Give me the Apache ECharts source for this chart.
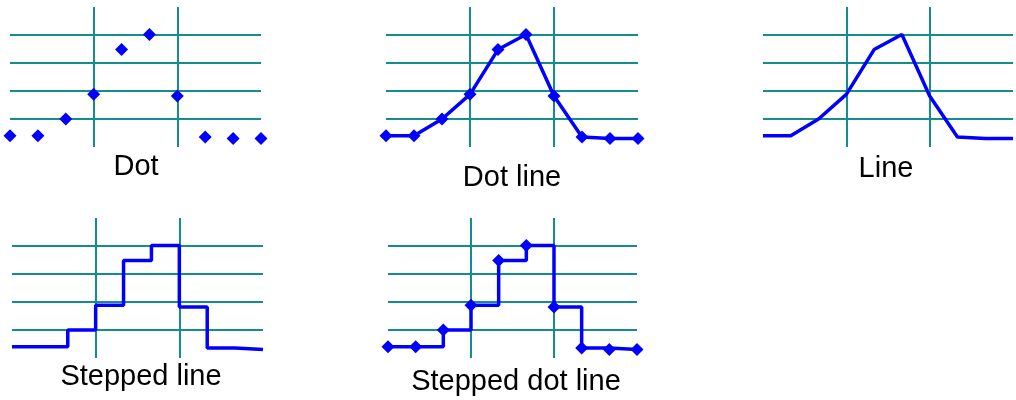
<!DOCTYPE html>
<html>
<head>
<meta charset="utf-8">
<script src="https://cdn.jsdelivr.net/npm/echarts@6/dist/echarts.min.js"></script>
<style>
    html, body { margin: 0; padding: 0; background: #fff; }
    #chart { width: 1016px; height: 400px; }
</style>
</head>
<body>
<div id="chart"></div>
<script>
// same sample curve drawn five ways
var xLabels = ['1', '2', '3', '4', '5', '6', '7', '8', '9', '10'];
var values = [0.4, 0.4, 1.0, 1.88, 3.48, 4.02, 1.82, 0.36, 0.3, 0.3];
var panelNames = ['Dot', 'Dot line', 'Line', 'Stepped line', 'Stepped dot line'];
var yMin = 0;
var yMax = 5;
var yStep = 1;

// panel boxes and caption spots (pixels)
var panels = [
    {left: 10, top: 7, width: 251, name: [136, 167], dots: true, line: false, step: false},
    {left: 386, top: 7, width: 252, name: [512, 178], dots: true, line: true, step: false},
    {left: 763, top: 7, width: 250, name: [886, 169], dots: false, line: true, step: false},
    {left: 12, top: 218, width: 251, name: [141, 377], dots: false, line: true, step: 'end'},
    {left: 388, top: 218, width: 249, name: [516, 382], dots: true, line: true, step: 'end'}
];

var gridColor = '#138d8d';
var blue = '#0000ff';

var grids = [], xAxes = [], yAxes = [], series = [], texts = [];

panels.forEach(function (p, i) {
    grids.push({left: p.left, top: p.top, width: p.width, height: 140, containLabel: false});
    xAxes.push({
        type: 'category',
        gridIndex: i,
        data: xLabels,
        boundaryGap: false,
        axisLine: {show: false},
        axisTick: {show: false},
        axisLabel: {show: false},
        splitLine: {
            show: true,
            interval: function (idx) {
                return idx === 3 || idx === 6;
            },
            lineStyle: {color: gridColor, width: 2}
        }
    });
    yAxes.push({
        type: 'value',
        gridIndex: i,
        min: yMin,
        max: yMax,
        interval: yStep,
        axisLine: {show: false},
        axisTick: {show: false},
        axisLabel: {show: false},
        splitLine: {
            show: true,
            showMinLine: false,
            showMaxLine: false,
            lineStyle: {color: gridColor, width: 2}
        }
    });
    if (!p.line) {
        series.push({
            type: 'scatter',
            xAxisIndex: i,
            yAxisIndex: i,
            symbol: 'diamond',
            symbolSize: 13,
            itemStyle: {color: blue, opacity: 1},
            data: values
        });
    } else {
        series.push({
            type: 'line',
            xAxisIndex: i,
            yAxisIndex: i,
            step: p.step,
            showSymbol: p.dots,
            symbol: 'diamond',
            symbolSize: 13,
            itemStyle: {color: blue, opacity: 1},
            lineStyle: {color: blue, width: 3.5},
            data: values
        });
    }
    texts.push({
        type: 'text',
        x: p.name[0],
        y: p.name[1],
        style: {
            text: panelNames[i],
            fill: '#000',
            font: '29px "Liberation Sans", Arial, sans-serif',
            align: 'center',
            verticalAlign: 'middle'
        }
    });
});

var myChart = echarts.init(document.getElementById('chart'));
myChart.setOption({
    animation: false,
    grid: grids,
    xAxis: xAxes,
    yAxis: yAxes,
    series: series,
    graphic: texts
});
</script>
</body>
</html>
